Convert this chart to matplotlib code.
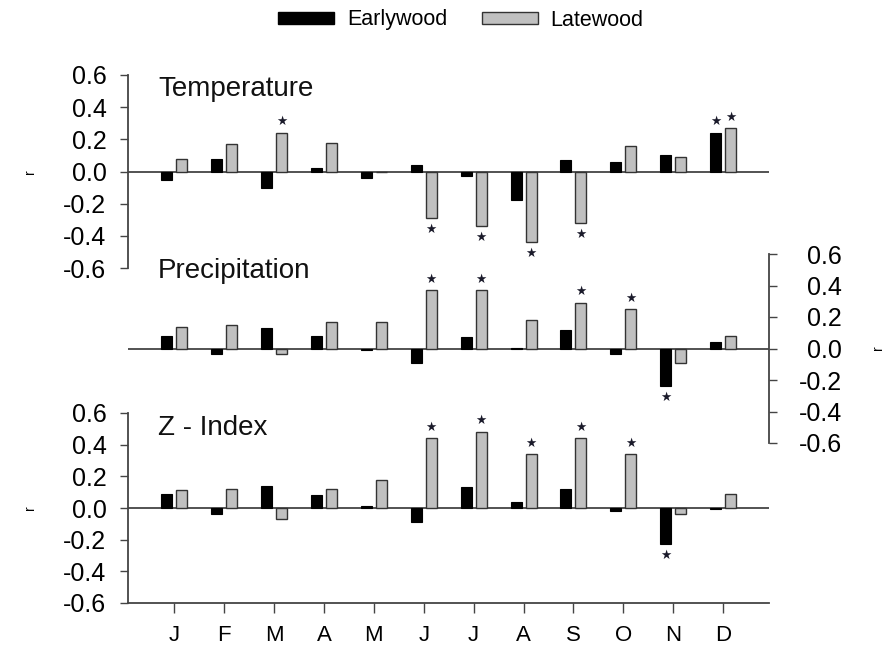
import numpy as np
import matplotlib
matplotlib.use('Agg')
import matplotlib.pyplot as plt
from matplotlib.patches import Patch

plt.rcParams['font.family'] = ['Liberation Sans', 'DejaVu Sans']
plt.rcParams['axes.unicode_minus'] = False

months = ['J', 'F', 'M', 'A', 'M', 'J', 'J', 'A', 'S', 'O', 'N', 'D']

temp_early = [-0.05, 0.08, -0.10, 0.02, -0.04, 0.04, -0.025, -0.18, 0.07, 0.06, 0.10, 0.24]
temp_late = [0.08, 0.17, 0.24, 0.18, 0.0, -0.29, -0.34, -0.44, -0.32, 0.16, 0.09, 0.27]
temp_early_sig = [11]
temp_late_sig = [2, 5, 6, 7, 8, 11]

prec_early = [0.08, -0.035, 0.13, 0.08, -0.01, -0.09, 0.07, 0.005, 0.12, -0.035, -0.24, 0.04]
prec_late = [0.135, 0.15, -0.035, 0.17, 0.17, 0.37, 0.37, 0.18, 0.29, 0.25, -0.09, 0.08]
prec_early_sig = [10]
prec_late_sig = [5, 6, 8, 9]

z_early = [0.09, -0.04, 0.14, 0.08, 0.01, -0.09, 0.13, 0.04, 0.12, -0.02, -0.23, -0.005]
z_late = [0.115, 0.12, -0.07, 0.12, 0.18, 0.44, 0.48, 0.34, 0.44, 0.34, -0.04, 0.09]
z_early_sig = [10]
z_late_sig = [5, 6, 7, 8, 9]

panels = [
    ('Temperature', temp_early, temp_late, temp_early_sig, temp_late_sig),
    ('Precipitation', prec_early, prec_late, prec_early_sig, prec_late_sig),
    ('Z - Index', z_early, z_late, z_early_sig, z_late_sig),
]

W, H = 884, 650
fig = plt.figure(figsize=(W / 100, H / 100), dpi=100)

# pixel boxes: (y of 0.6, y of -0.6) and title baselines
boxes = [(75, 268), (254, 443), (413, 603)]
title_base = [96, 278, 435]
x_left, x_right = 128, 769

x = np.arange(len(months))
bw = 0.22
off = 0.15
ticks = [-0.6, -0.4, -0.2, 0.0, 0.2, 0.4, 0.6]
edge = '#333333'
axis_col = '#444444'


def star(ax, xpos, v):
    dy = 8 if v >= 0 else -8
    ax.annotate('\u2605', xy=(xpos, v), xytext=(0, dy), textcoords='offset points',
                ha='center', va='center', fontsize=9, color='#1a1a2a',
                family='DejaVu Sans')


for i, (title, early, late, esig, lsig) in enumerate(panels):
    top, bot = boxes[i]
    ax = fig.add_axes([x_left / W, 1 - bot / H, (x_right - x_left) / W, (bot - top) / H])
    ax.patch.set_visible(False)
    ax.bar(x - off, early, bw, color='black', edgecolor='black', linewidth=0.8, zorder=3)
    ax.bar(x + off, late, bw, color='#c0c0c0', edgecolor=edge, linewidth=1.0, zorder=3)
    ax.axhline(0, color=axis_col, linewidth=1.3, zorder=2)
    for j in esig:
        star(ax, x[j] - off, early[j])
    for j in lsig:
        star(ax, x[j] + off, late[j])
    ax.set_xlim(-0.93, 11.92)
    ax.set_ylim(-0.6, 0.6)
    ax.set_yticks(ticks)
    ax.set_yticklabels(['%.1f' % t for t in ticks], fontsize=18)
    for s in ax.spines.values():
        s.set_visible(False)
        s.set_color(axis_col)
        s.set_linewidth(1.3)
    if i == 1:
        ax.spines['right'].set_visible(True)
        ax.yaxis.tick_right()
        ax.tick_params(axis='y', direction='out', length=5.5, width=1.0, color=axis_col, pad=47)
        for lbl in ax.get_yticklabels():
            lbl.set_horizontalalignment('right')
    else:
        ax.spines['left'].set_visible(True)
        ax.tick_params(axis='y', direction='out', length=5.5, width=1.0, color=axis_col, pad=10)
    if i == 2:
        ax.spines['bottom'].set_visible(True)
        ax.set_xticks(x)
        ax.set_xticklabels(months, fontsize=16)
        ax.tick_params(axis='x', direction='out', length=7, width=1.0, color=axis_col, pad=9)
    else:
        ax.set_xticks([])
    fig.text(158 / W, 1 - title_base[i] / H, title, fontsize=20, ha='left', va='baseline',
             color='#111111')

# r labels
fig.text(30 / W, 1 - 172 / H, 'r', rotation=90, fontsize=10, ha='center', va='center')
fig.text(30 / W, 1 - 508 / H, 'r', rotation=90, fontsize=10, ha='center', va='center')
fig.text(878 / W, 1 - 348 / H, 'r', rotation=90, fontsize=10, ha='center', va='center')

handles = [Patch(facecolor='black', edgecolor='black', label='Earlywood'),
           Patch(facecolor='#c0c0c0', edgecolor=edge, label='Latewood')]
fig.legend(handles=handles, loc='center', bbox_to_anchor=(461 / W, 1 - 20 / H), ncol=2,
           frameon=False, fontsize=15.5, handlelength=2.6, handleheight=0.45,
           columnspacing=1.6, handletextpad=0.6)

fig.savefig('out.png', dpi=100)
